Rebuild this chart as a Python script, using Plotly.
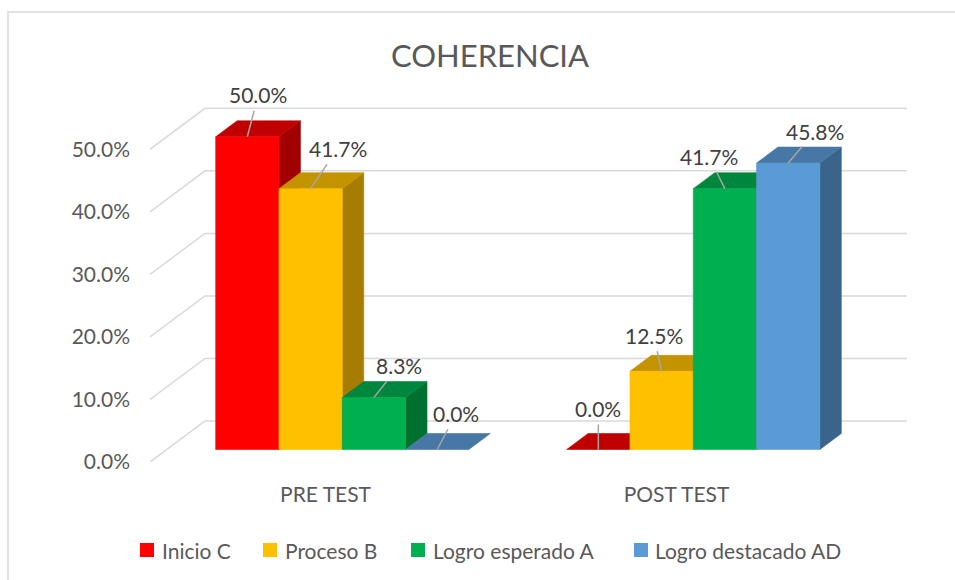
import plotly.graph_objects as go

# ---------------- data ----------------
categories = ["PRE TEST", "POST TEST"]
series_names = ["Inicio C", "Proceso B", "Logro esperado A", "Logro destacado AD"]
inicio_c = [50.0, 0.0]
proceso_b = [41.7, 12.5]
logro_esperado_a = [8.3, 41.7]
logro_destacado_ad = [0.0, 45.8]
y_ticks = [0, 10, 20, 30, 40, 50]
title_text = "COHERENCIA"

series_values = [inicio_c, proceso_b, logro_esperado_a, logro_destacado_ad]

# ---------------- style ----------------
FONT = "Lato, Calibri, Carlito, 'Open Sans', sans-serif"
front_colors = ["#FF0000", "#FFC000", "#00B050", "#5B9BD5"]
top_colors = ["#C00000", "#C49400", "#00873D", "#4677A5"]
side_colors = ["#A00000", "#A67D00", "#00702F", "#3A6489"]
GRID = "#D9D9D9"
TEXT = "#595959"
LABEL = "#404040"

W, H = 955, 580
ML, MR, MT, MB = 150, 48, 80, 118
PW, PH = W - ML - MR, H - MT - MB
PX_PER_X = 351.0           # pixels per category slot
PX_PER_Y = 6.254           # pixels per percentage point
DX = 55.0 / PX_PER_X       # depth shift of the back wall (x units)
DY = 41.0 / PX_PER_Y       # depth shift of the back wall (y units)
BW = 63.3 / PX_PER_X       # bar width in x units
D0, D1 = 0.305, 0.695      # bar front/back depth fractions
YMAX = PH / PX_PER_Y
ncat = len(categories)

# label offsets (pixels) from the bar's front-top centre, per [group][series]
LABEL_OFFSETS = [[(11, -42), (27, -40), (25, -32), (19, -36)],
                 [(0, -41), (-8, -36), (-16, -32), (27, -32)]]
# legend layout (pixel positions of swatch left edge and text left edge)
LEGEND_SWATCH_X = [140, 263, 411, 634]
LEGEND_TEXT_X = [160, 283, 431, 653]
LEGEND_Y = 550
SWATCH = 14


def px_to_paper_x(px):
    return (px - ML) / PW


def px_to_paper_y(py):
    return (H - MB - py) / PH


def proj(x, v, d):
    return x + d * DX, v + d * DY


fig = go.Figure()

# ---- wall gridlines (back wall + left side wall) ----
gx, gy = [], []
for t in y_ticks:
    x0, y0 = proj(0, t, 0)
    x1, y1 = proj(0, t, 1)
    x2, y2 = proj(ncat, t, 1)
    gx += [x0, x1, x2, None]
    gy += [y0, y1, y2, None]
fig.add_trace(go.Scatter(x=gx, y=gy, mode="lines", line=dict(color=GRID, width=1.5),
                         hoverinfo="skip", showlegend=False))


def poly(pts, color, name):
    xs = [p[0] for p in pts] + [pts[0][0]]
    ys = [p[1] for p in pts] + [pts[0][1]]
    fig.add_trace(go.Scatter(x=xs, y=ys, mode="lines", fill="toself", fillcolor=color,
                             line=dict(color=color, width=0.6), hoverinfo="skip",
                             name=name, showlegend=False))


annotations = []
for i, cat in enumerate(categories):
    for j, vals in enumerate(series_values):
        v = vals[i]
        xl = i + 0.5 - 2 * BW + j * BW
        xr = xl + BW
        side = [proj(xr, 0, D0), proj(xr, 0, D1), proj(xr, v, D1), proj(xr, v, D0)]
        top = [proj(xl, v, D0), proj(xr, v, D0), proj(xr, v, D1), proj(xl, v, D1)]
        front = [proj(xl, 0, D0), proj(xr, 0, D0), proj(xr, v, D0), proj(xl, v, D0)]
        if v > 0:
            poly(side, side_colors[j], series_names[j])
        poly(top, top_colors[j], series_names[j])
        if v > 0:
            poly(front, front_colors[j], series_names[j])
        hx, hy = proj((xl + xr) / 2, v, D0)
        ax, ay = LABEL_OFFSETS[i][j]
        annotations.append(dict(
            x=hx, y=hy, xref="x", yref="y", text=f"{v:.1f}%", showarrow=True,
            ax=ax, ay=ay, arrowhead=0, arrowwidth=1.5, arrowcolor="#A6A6A6",
            startstandoff=2, font=dict(family=FONT, size=21, color=LABEL)))

# ---- legend (swatches + text) ----
shapes = []
for j, name in enumerate(series_names):
    sx = LEGEND_SWATCH_X[j]
    shapes.append(dict(type="rect", xref="paper", yref="paper",
                       x0=px_to_paper_x(sx), x1=px_to_paper_x(sx + SWATCH),
                       y0=px_to_paper_y(LEGEND_Y + SWATCH / 2),
                       y1=px_to_paper_y(LEGEND_Y - SWATCH / 2),
                       line=dict(width=0), fillcolor=front_colors[j]))
    annotations.append(dict(x=px_to_paper_x(LEGEND_TEXT_X[j]), y=px_to_paper_y(LEGEND_Y),
                            xref="paper", yref="paper", xanchor="left", yanchor="middle",
                            text=name, showarrow=False,
                            font=dict(family=FONT, size=21, color=TEXT)))

# chart-area border (only top and left edges fall inside the picture)
shapes.append(dict(type="rect", xref="paper", yref="paper",
                   x0=px_to_paper_x(8), x1=px_to_paper_x(1000),
                   y0=px_to_paper_y(620), y1=px_to_paper_y(12),
                   line=dict(color=GRID, width=1.5), fillcolor="rgba(0,0,0,0)",
                   layer="below"))

fig.update_layout(
    width=W, height=H,
    margin=dict(l=ML, r=MR, t=MT, b=MB, pad=0),
    paper_bgcolor="white", plot_bgcolor="white",
    showlegend=False,
    title=dict(text=title_text, x=490 / W, xref="container", xanchor="center",
               y=1 - 56 / H, yref="container", yanchor="middle",
               font=dict(family=FONT, size=31, color=TEXT)),
    xaxis=dict(range=[0, ncat + DX], showgrid=False, zeroline=False, showline=False,
               tickvals=[i + 0.5 for i in range(ncat)], ticktext=categories,
               ticks="", ticklabelstandoff=18,
               tickfont=dict(family=FONT, size=21, color=TEXT), fixedrange=True),
    yaxis=dict(range=[0, YMAX], showgrid=False, zeroline=False, showline=False,
               tickvals=y_ticks, ticktext=[f"{t:.1f}%" for t in y_ticks],
               ticks="", ticklabelstandoff=19,
               tickfont=dict(family=FONT, size=21, color=TEXT), fixedrange=True),
    annotations=annotations,
    shapes=shapes,
)

fig.write_html("out.html",
               config={"displayModeBar": False},
               post_script="document.body.style.margin='0';"
                           "document.body.style.overflow='hidden';")
